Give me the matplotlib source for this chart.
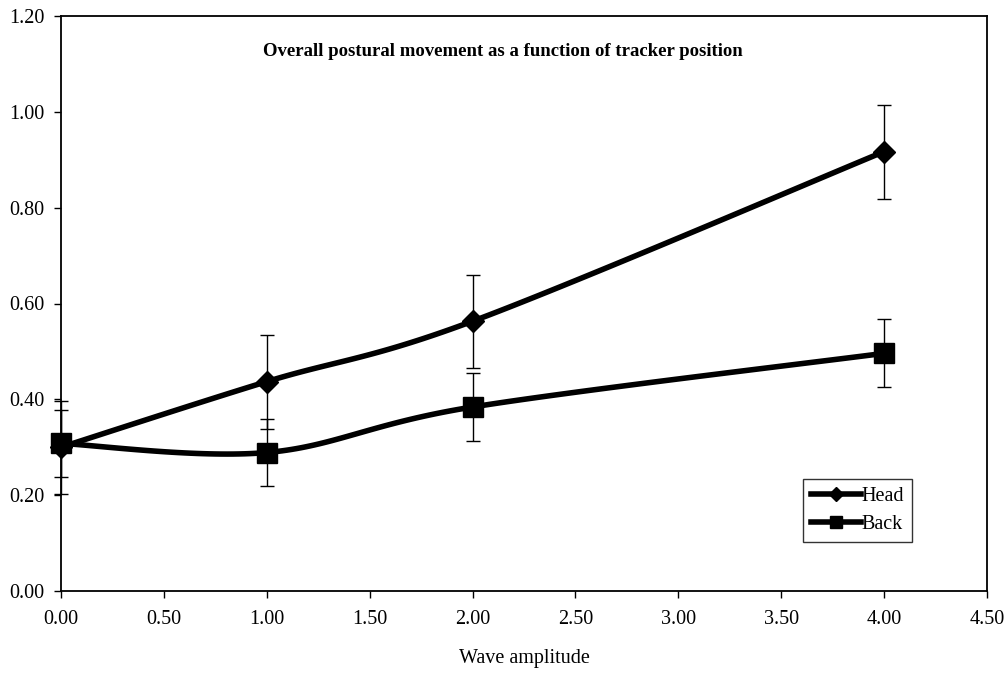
import numpy as np
import matplotlib
matplotlib.use("Agg")
import matplotlib.pyplot as plt

plt.rcParams['font.family'] = ['Liberation Serif', 'DejaVu Serif']

# dati
amplitude = [0.0, 1.0, 2.0, 4.0]
head = [0.300, 0.437, 0.563, 0.917]
head_err = [0.097, 0.098, 0.097, 0.098]
back = [0.308, 0.289, 0.384, 0.496]
back_err = [0.070, 0.069, 0.071, 0.071]

x_ticks = np.arange(0, 4.51, 0.5)
y_ticks = np.arange(0, 1.21, 0.2)


# curva smussata tipo Excel (Bezier cubica tra i punti)
def smooth(xs, ys, n=40):
    p = np.column_stack([xs, ys])
    pts = np.vstack([p[0], p, p[-1]])
    out = []
    t = np.linspace(0, 1, n)[:, None]
    for i in range(1, len(pts) - 2):
        p0, p1 = pts[i], pts[i + 1]
        c1 = p0 + (pts[i + 1] - pts[i - 1]) / 6
        c2 = p1 - (pts[i + 2] - pts[i]) / 6
        seg = ((1 - t) ** 3) * p0 + 3 * ((1 - t) ** 2) * t * c1 \
            + 3 * (1 - t) * t ** 2 * c2 + t ** 3 * p1
        out.append(seg if i == 1 else seg[1:])
    out = np.vstack(out)
    return out[:, 0], out[:, 1]


fig = plt.figure(figsize=(10.08, 6.75), dpi=100)
ax = fig.add_axes([61 / 1008, 1 - 591 / 675, 926 / 1008, 575 / 675])

for ys, err, mk, ms, lab in [(head, head_err, 'D', 11, 'Head'),
                             (back, back_err, 's', 14, 'Back')]:
    eb = ax.errorbar(amplitude, ys, yerr=err, fmt='none', ecolor='black',
                     elinewidth=1, capsize=5, capthick=1, zorder=2)
    for art in eb.lines[1] + eb.lines[2]:
        art.set_clip_on(False)
    sx, sy = smooth(amplitude, ys)
    ax.plot(sx, sy, color='black', lw=4, zorder=3, clip_on=False)
    ax.plot(amplitude, ys, linestyle='none', marker=mk, markersize=ms,
            color='black', zorder=4, clip_on=False)
    ax.plot([], [], color='black', lw=4, marker=mk, markersize=ms * 0.65,
            label=lab)

ax.set_xlim(0, 4.5)
ax.set_ylim(0, 1.2)
ax.set_xticks(x_ticks)
ax.set_yticks(y_ticks)
ax.set_xticklabels([f'{v:.2f}' for v in x_ticks], fontsize=14.5)
ax.set_yticklabels([f'{v:.2f}' for v in y_ticks], fontsize=14.5)
ax.tick_params(direction='out', length=5, width=1)
ax.tick_params(axis='x', pad=9)
ax.tick_params(axis='y', pad=7)
for s in ax.spines.values():
    s.set_linewidth(1.3)

ax.set_xlabel('Wave amplitude', fontsize=14.5, labelpad=14)
fig.text(503 / 1008, 1 - 52 / 675,
         'Overall postural movement as a function of tracker position',
         ha='center', va='center', fontsize=13.5, fontweight='bold')

leg = ax.legend(loc='lower left', bbox_to_anchor=(0.801, 0.085),
                fontsize=14.5, frameon=True, fancybox=False, edgecolor='black',
                handlelength=2.5, handletextpad=0.0, borderpad=0.4,
                labelspacing=0.45, borderaxespad=0)
leg.get_frame().set_linewidth(1)

plt.savefig('out.png', dpi=100)
